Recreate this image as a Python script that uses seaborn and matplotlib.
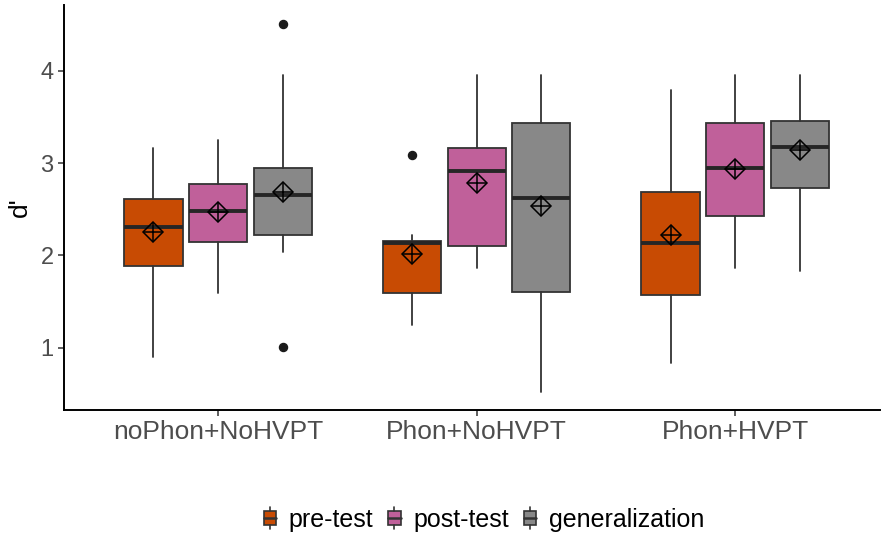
import matplotlib
matplotlib.use("Agg")
import matplotlib.pyplot as plt
import seaborn as sns
from matplotlib.legend_handler import HandlerBase
from matplotlib.patches import Patch, Rectangle
from matplotlib.lines import Line2D

# groups on the x axis, tests as the dodged boxes
groups = ["noPhon+NoHVPT", "Phon+NoHVPT", "Phon+HVPT"]
tests = ["pre-test", "post-test", "generalization"]
colors = ["#C84B03", "#C0609A", "#888888"]

# box statistics: rows = tests, columns = groups
q1 = [[1.89, 1.59, 1.57],
      [2.15, 2.10, 2.43],
      [2.22, 1.60, 2.73]]
median = [[2.31, 2.14, 2.13],
          [2.48, 2.91, 2.95],
          [2.65, 2.62, 3.17]]
q3 = [[2.61, 2.16, 2.69],
      [2.77, 3.16, 3.44],
      [2.95, 3.44, 3.46]]
whislo = [[0.90, 1.25, 0.84],
          [1.59, 1.86, 1.86],
          [2.04, 0.52, 1.83]]
whishi = [[3.16, 2.22, 3.79],
          [3.25, 3.96, 3.96],
          [3.96, 3.96, 3.96]]
means = [[2.25, 2.02, 2.22],
         [2.47, 2.78, 2.94],
         [2.69, 2.54, 3.14]]
fliers = [[[], [3.09], []],
          [[], [], []],
          [[4.51, 1.01], [], []]]


class BoxKey(HandlerBase):
    """Legend key that looks like a little boxplot (ggplot style)."""

    def create_artists(self, legend, orig_handle, xdescent, ydescent,
                       width, height, fontsize, trans):
        x0, y0 = -xdescent, -ydescent
        cx = x0 + width / 2
        edge = "#333333"
        box = Rectangle((x0, y0 + 0.17 * height), width, 0.66 * height,
                        facecolor=orig_handle.get_facecolor(), edgecolor=edge,
                        lw=1.2, transform=trans)
        top = Line2D([cx, cx], [y0 + 0.83 * height, y0 + height],
                     color=edge, lw=1.2, transform=trans)
        bot = Line2D([cx, cx], [y0, y0 + 0.17 * height],
                     color=edge, lw=1.2, transform=trans)
        med = Line2D([x0, x0 + width], [y0 + 0.5 * height] * 2,
                     color=edge, lw=1.8, transform=trans)
        return [box, top, bot, med]


sns.set_theme(style="ticks")
plt.rcParams["font.family"] = ["Liberation Sans", "DejaVu Sans"]

fig = plt.figure(figsize=(8.83, 5.33), dpi=100)
ax = fig.add_axes([0.0725, 0.231, 0.924, 0.76])

offsets = [-0.25, 0.0, 0.25]
for t, test in enumerate(tests):
    stats = []
    for g in range(len(groups)):
        stats.append(dict(med=median[t][g], q1=q1[t][g], q3=q3[t][g],
                          whislo=whislo[t][g], whishi=whishi[t][g],
                          fliers=fliers[t][g], label=groups[g]))
    pos = [g + offsets[t] for g in range(len(groups))]
    ax.bxp(stats, positions=pos, widths=0.225, patch_artist=True,
           showcaps=False, manage_ticks=False,
           boxprops=dict(facecolor=colors[t], edgecolor="#333333", linewidth=1.3),
           medianprops=dict(color="#262626", linewidth=2.8, solid_capstyle="butt"),
           whiskerprops=dict(color="#333333", linewidth=1.3),
           flierprops=dict(marker="o", markerfacecolor="#1a1a1a",
                           markeredgecolor="#1a1a1a", markersize=5.8))
    # mean shown as diamond with a cross (R shape 9)
    ax.plot(pos, means[t], ls="none", marker="D", ms=10.5, mfc="none",
            mec="black", mew=1.1, zorder=5)
    ax.plot(pos, means[t], ls="none", marker="+", ms=14.5, mec="black",
            mew=1.1, zorder=5)

ax.set_xlim(-0.596, 2.56)
ax.set_ylim(0.328, 4.715)
ax.set_xticks(range(len(groups)))
ax.set_xticklabels(groups)
ax.set_yticks([1, 2, 3, 4])
ax.tick_params(axis="both", length=4, width=1.1, color="#333333",
               labelcolor="#4D4D4D")
ax.tick_params(axis="x", labelsize=19)
ax.tick_params(axis="y", labelsize=17)
ax.set_ylabel("d'", fontsize=19, color="black", labelpad=6)
ax.set_xlabel("")

sns.despine(ax=ax)
for side in ["left", "bottom"]:
    ax.spines[side].set_linewidth(1.4)
    ax.spines[side].set_color("black")

handles = [Patch(facecolor=c, edgecolor="#333333") for c in colors]
fig.legend(handles=handles, labels=tests, loc="center",
           bbox_to_anchor=(0.548, 0.026), ncol=3, frameon=False, fontsize=18,
           labelcolor="black",
           handler_map={Patch: BoxKey()}, handlelength=0.5, handleheight=1.0,
           handletextpad=0.5, columnspacing=0.6)

fig.savefig("out.png", dpi=100)
